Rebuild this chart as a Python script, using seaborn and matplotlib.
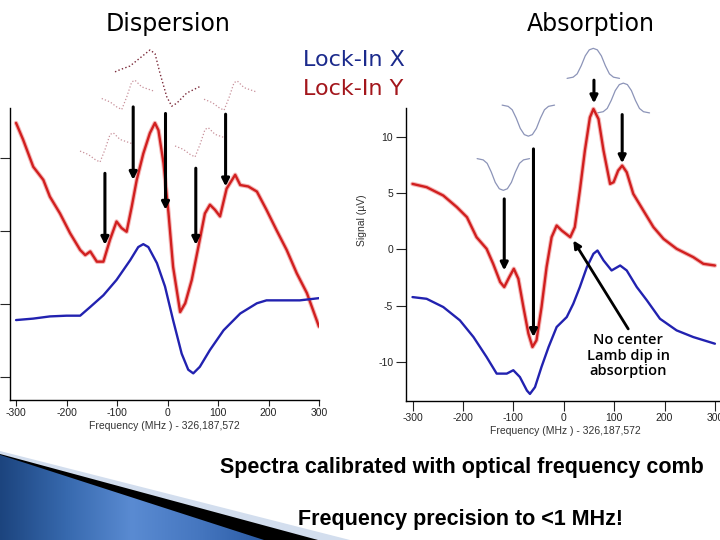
import numpy as np
import pandas as pd
import matplotlib
matplotlib.use("Agg")
import matplotlib.pyplot as plt
import seaborn as sns
from matplotlib.patches import Polygon
from matplotlib.colors import LinearSegmentedColormap

sns.set_theme(style="ticks")
plt.rcParams['font.family'] = ['Liberation Sans', 'DejaVu Sans']
plt.rcParams['axes.unicode_minus'] = False

# ---------------- data: dispersion (left) ----------------
disp_red_f = [-300, -286, -266, -246, -233, -213, -193, -173, -163, -153, -140, -127, -114, -101, -91, -81,
              -71, -61, -48, -35, -25, -18, -8, 2, 11, 25, 35, 48, 61, 74, 84, 94, 104, 117, 134, 144, 160,
              177, 196, 216, 236, 256, 276, 300]
disp_red_v = [3.48, 3.25, 2.88, 2.70, 2.47, 2.24, 1.97, 1.74, 1.67, 1.72, 1.58, 1.58, 1.88, 2.13, 2.04, 1.99,
              2.33, 2.70, 3.06, 3.34, 3.48, 3.38, 2.93, 2.24, 1.51, 0.89, 1.01, 1.33, 1.78, 2.24, 2.36, 2.29,
              2.20, 2.58, 2.77, 2.63, 2.61, 2.54, 2.29, 2.01, 1.74, 1.42, 1.15, 0.69]
disp_blue_f = [-300, -266, -233, -200, -173, -153, -127, -101, -74, -58, -48, -38, -21, -5, 11, 28, 41, 51,
               64, 84, 111, 144, 177, 196, 229, 262, 300]
disp_blue_v = [0.78, 0.80, 0.83, 0.84, 0.84, 0.96, 1.12, 1.33, 1.60, 1.78, 1.82, 1.78, 1.56, 1.24, 0.78, 0.32,
               0.10, 0.05, 0.14, 0.37, 0.64, 0.87, 1.01, 1.05, 1.05, 1.05, 1.08]

# ---------------- data: absorption (right) ----------------
abs_red_f = [-300, -272, -239, -212, -192, -173, -153, -140, -126, -118, -108, -99, -90, -80, -70, -62, -54,
             -44, -34, -24, -14, -4, 13, 22, 32, 42, 52, 59, 69, 79, 92, 99, 108, 116, 125, 138, 158, 178,
             198, 224, 257, 277, 300]
abs_red_v = [5.81, 5.52, 4.78, 3.75, 2.86, 1.09, 0.06, -1.27, -2.89, -3.33, -2.45, -1.71, -2.60, -5.10, -7.46,
             -8.64, -8.05, -5.10, -1.56, 1.09, 2.12, 1.68, 1.09, 1.98, 5.22, 8.76, 11.7, 12.45, 11.56, 8.76,
             5.81, 5.96, 6.99, 7.43, 6.84, 4.93, 3.45, 1.98, 0.94, 0.06, -0.68, -1.27, -1.42]
abs_blue_f = [-300, -272, -239, -206, -179, -153, -133, -113, -100, -87, -73, -67, -57, -44, -30, -14, 6, 19,
              32, 46, 59, 67, 79, 95, 112, 125, 145, 165, 191, 224, 257, 300]
abs_blue_v = [-4.22, -4.37, -5.10, -6.28, -7.76, -9.53, -11.0, -11.0, -10.7, -11.3, -12.5, -12.8, -12.2, -10.4,
              -8.64, -6.87, -5.99, -4.81, -3.33, -1.56, -0.38, -0.09, -0.97, -1.86, -1.42, -1.86, -3.33,
              -4.51, -6.14, -7.17, -7.76, -8.35]
abs_yticks = [-10, -5, 0, 5, 10]
freq_ticks = [-300, -200, -100, 0, 100, 200, 300]

# ---------------- sketch overlays ----------------
big_disp_f = [-104, -94, -74.3, -54.5, -34.7, -24.8, -14.9, -1.6, 8.3, 18.2, 38, 64.4]
big_disp_v = [4.18, 4.21, 4.26, 4.37, 4.48, 4.43, 4.16, 3.84, 3.71, 3.75, 3.89, 3.98]
small_disp_df = [-49.5, -33, -19.8, -9.9, 0, 9.9, 16.4, 29.7, 52.7]
small_disp_dv = [-0.045, -0.092, -0.160, -0.196, -0.023, 0.182, 0.205, 0.114, 0.059]
small_disp_center_f = [-80.8, 121.8, -123.8, 64.4]
small_disp_center_v = [3.86, 3.85, 3.14, 3.21]

abs_shape_df = [-52, -40, -32, -24, -16, -8, 0, 8, 16, 24, 32, 40, 52]
abs_shape_frac = [0, 0.04, 0.15, 0.42, 0.75, 0.95, 1, 0.95, 0.75, 0.42, 0.15, 0.04, 0]
abs_shape_center_f = [-119.8, -70.2, 58.7, 118.3]
abs_shape_base_v = [8.05, 12.79, 15.16, 12.10]
abs_shape_amp = [-2.81, -2.75, 2.66, 2.64]

# arrows (frequency, start value, end value)
disp_arrow_f = [-124, -68, -4, 56, 115]
disp_arrow_v0 = [2.79, 3.70, 3.61, 2.86, 3.60]
disp_arrow_v1 = [1.81, 2.70, 2.29, 1.81, 2.61]
abs_arrow_f = [-118, -60, 60, 116]
abs_arrow_v0 = [4.48, 8.91, 15.0, 11.95]
abs_arrow_v1 = [-1.86, -7.76, 12.95, 7.64]

RED = '#D11F1F'
RED_GLOW = '#F2A5A5'
BLUE = '#2222B0'

fig = plt.figure(figsize=(7.2, 5.4), dpi=100)
fig.patch.set_facecolor('white')


def fx(px):
    return px / 720.0


def fy(py):
    return 1 - py / 540.0


axL = fig.add_axes([fx(10), fy(400), (319.3 - 10) / 720, (400 - 12) / 540])
axR = fig.add_axes([fx(405.7), fy(400.7), (725 - 405.7) / 720, (400.7 - 40) / 540])


def draw_trace(ax, f, v, color, glow=False):
    if glow:
        sns.lineplot(x=f, y=v, ax=ax, color=RED_GLOW, lw=3.2, sort=False, estimator=None, alpha=0.8)
    sns.lineplot(x=f, y=v, ax=ax, color=color, lw=1.7, sort=False, estimator=None)


# left panel
for cf, cv in zip(small_disp_center_f, small_disp_center_v):
    sns.lineplot(x=[cf + d for d in small_disp_df], y=[cv + d for d in small_disp_dv], ax=axL,
                 color='#C8909A', lw=0.9, ls=':', sort=False, estimator=None)
sns.lineplot(x=big_disp_f, y=big_disp_v, ax=axL, color='#7A2838', lw=1.0, ls=':', sort=False, estimator=None)
draw_trace(axL, disp_red_f, disp_red_v, RED, glow=True)
draw_trace(axL, disp_blue_f, disp_blue_v, BLUE)
for f, a, b in zip(disp_arrow_f, disp_arrow_v0, disp_arrow_v1):
    axL.annotate('', xy=(f, b), xytext=(f, a),
                 arrowprops=dict(arrowstyle='-|>', lw=2.2, color='black', mutation_scale=11,
                                 shrinkA=0, shrinkB=0), annotation_clip=False)

axL.set_xlim(-312, 300.6)
axL.set_ylim(-0.315, 5.0)
axL.set_xticks(freq_ticks)
axL.set_yticks([0, 1, 2, 3])
axL.set_yticklabels([])
axL.spines['left'].set_bounds(-0.315, 3.68)
axL.tick_params(axis='x', length=4, width=0.8, labelsize=7.5, pad=2, colors='#222222')
axL.tick_params(axis='y', length=7, width=0.8)
axL.set_xlabel('Frequency (MHz ) - 326,187,572', fontsize=7.5, color='#333333', labelpad=2)

# right panel
for cf, bv, amp in zip(abs_shape_center_f, abs_shape_base_v, abs_shape_amp):
    sns.lineplot(x=[cf + d for d in abs_shape_df], y=[bv + amp * fr for fr in abs_shape_frac], ax=axR,
                 color='#8C94B8', lw=0.9, sort=False, estimator=None)
draw_trace(axR, abs_red_f, abs_red_v, RED, glow=True)
draw_trace(axR, abs_blue_f, abs_blue_v, BLUE)
for f, a, b in zip(abs_arrow_f, abs_arrow_v0, abs_arrow_v1):
    axR.annotate('', xy=(f, b), xytext=(f, a),
                 arrowprops=dict(arrowstyle='-|>', lw=2.2, color='black', mutation_scale=11,
                                 shrinkA=0, shrinkB=0), annotation_clip=False)
axR.annotate('', xy=(19, 0.8), xytext=(128, -7.04),
             arrowprops=dict(arrowstyle='-|>', lw=2.0, color='black', mutation_scale=11,
                             shrinkA=0, shrinkB=0))
axR.text(128, -7.4, 'No center\nLamb dip in\nabsorption', ha='center', va='top', fontsize=10.5,
         family=['Open Sans', 'DejaVu Sans'], fontweight='semibold', linespacing=1.15, color='black')

axR.set_xlim(-313.5, 320)
axR.set_ylim(-13.4, 18.56)
axR.set_xticks(freq_ticks)
axR.set_yticks(abs_yticks)
axR.spines['left'].set_bounds(-13.4, 12.5)
axR.tick_params(axis='both', length=7, width=0.8, labelsize=7.5, pad=2, colors='#222222')
axR.set_xlabel('Frequency (MHz ) - 326,187,572', fontsize=7.5, color='#333333', labelpad=2)
axR.set_ylabel('Signal (\u00b5V)', fontsize=7.5, color='#333333', labelpad=8)

for ax in (axL, axR):
    ax.set_facecolor('none')
    for s in ('top', 'right'):
        ax.spines[s].set_visible(False)
    for s in ('left', 'bottom'):
        ax.spines[s].set_color('black')
        ax.spines[s].set_linewidth(1.0)
    for t in ax.get_xticklines() + ax.get_yticklines():
        t.set_color('black')

# titles / legend text
fig.text(fx(168), fy(24), 'Dispersion', ha='center', va='center', fontsize=17,
         family=['DejaVu Sans'], color='black')
fig.text(fx(591), fy(24), 'Absorption', ha='center', va='center', fontsize=17,
         family=['DejaVu Sans'], color='black')
fig.text(fx(303), fy(60), 'Lock-In X', ha='left', va='center', fontsize=16,
         family=['DejaVu Sans'], color='#1B2A8C')
fig.text(fx(303), fy(89), 'Lock-In Y', ha='left', va='center', fontsize=16,
         family=['DejaVu Sans'], color='#A3161C')
fig.text(fx(462), fy(468), 'Spectra calibrated with optical frequency comb', ha='center', va='center',
         fontsize=15.5, fontweight='bold', family=['Liberation Sans'], color='black')
fig.text(fx(461), fy(520), 'Frequency precision to <1 MHz!', ha='center', va='center',
         fontsize=15.5, fontweight='bold', family=['Liberation Sans'], color='black')

# slide decoration (bottom-left swoosh)
light = Polygon([(fx(0), fy(451)), (fx(350), fy(540)), (fx(0), fy(540))], closed=True,
                transform=fig.transFigure, facecolor='#D3DEEE', edgecolor='none', zorder=1)
black = Polygon([(fx(0), fy(454)), (fx(318), fy(540)), (fx(0), fy(540))], closed=True,
                transform=fig.transFigure, facecolor='black', edgecolor='none', zorder=1.1)
fig.add_artist(light)
fig.add_artist(black)
axD = fig.add_axes([0, 0, fx(264), 86 / 540])
axD.set_zorder(3)
axD.set_axis_off()
cmap = LinearSegmentedColormap.from_list('swoosh', ['#1C447E', '#3769AE', '#5A8BD2', '#4677C0', '#2B5CA6'])
grad = np.linspace(0, 1, 256).reshape(1, -1)
im = axD.imshow(grad, cmap=cmap, aspect='auto', extent=[0, 1, 0, 1])
axD.set_xlim(0, 1)
axD.set_ylim(0, 1)
tri = Polygon([(0, 0.99), (1, 0), (0, 0)], closed=True, transform=axD.transData)
im.set_clip_path(tri)

fig.savefig('out.png', dpi=100)
